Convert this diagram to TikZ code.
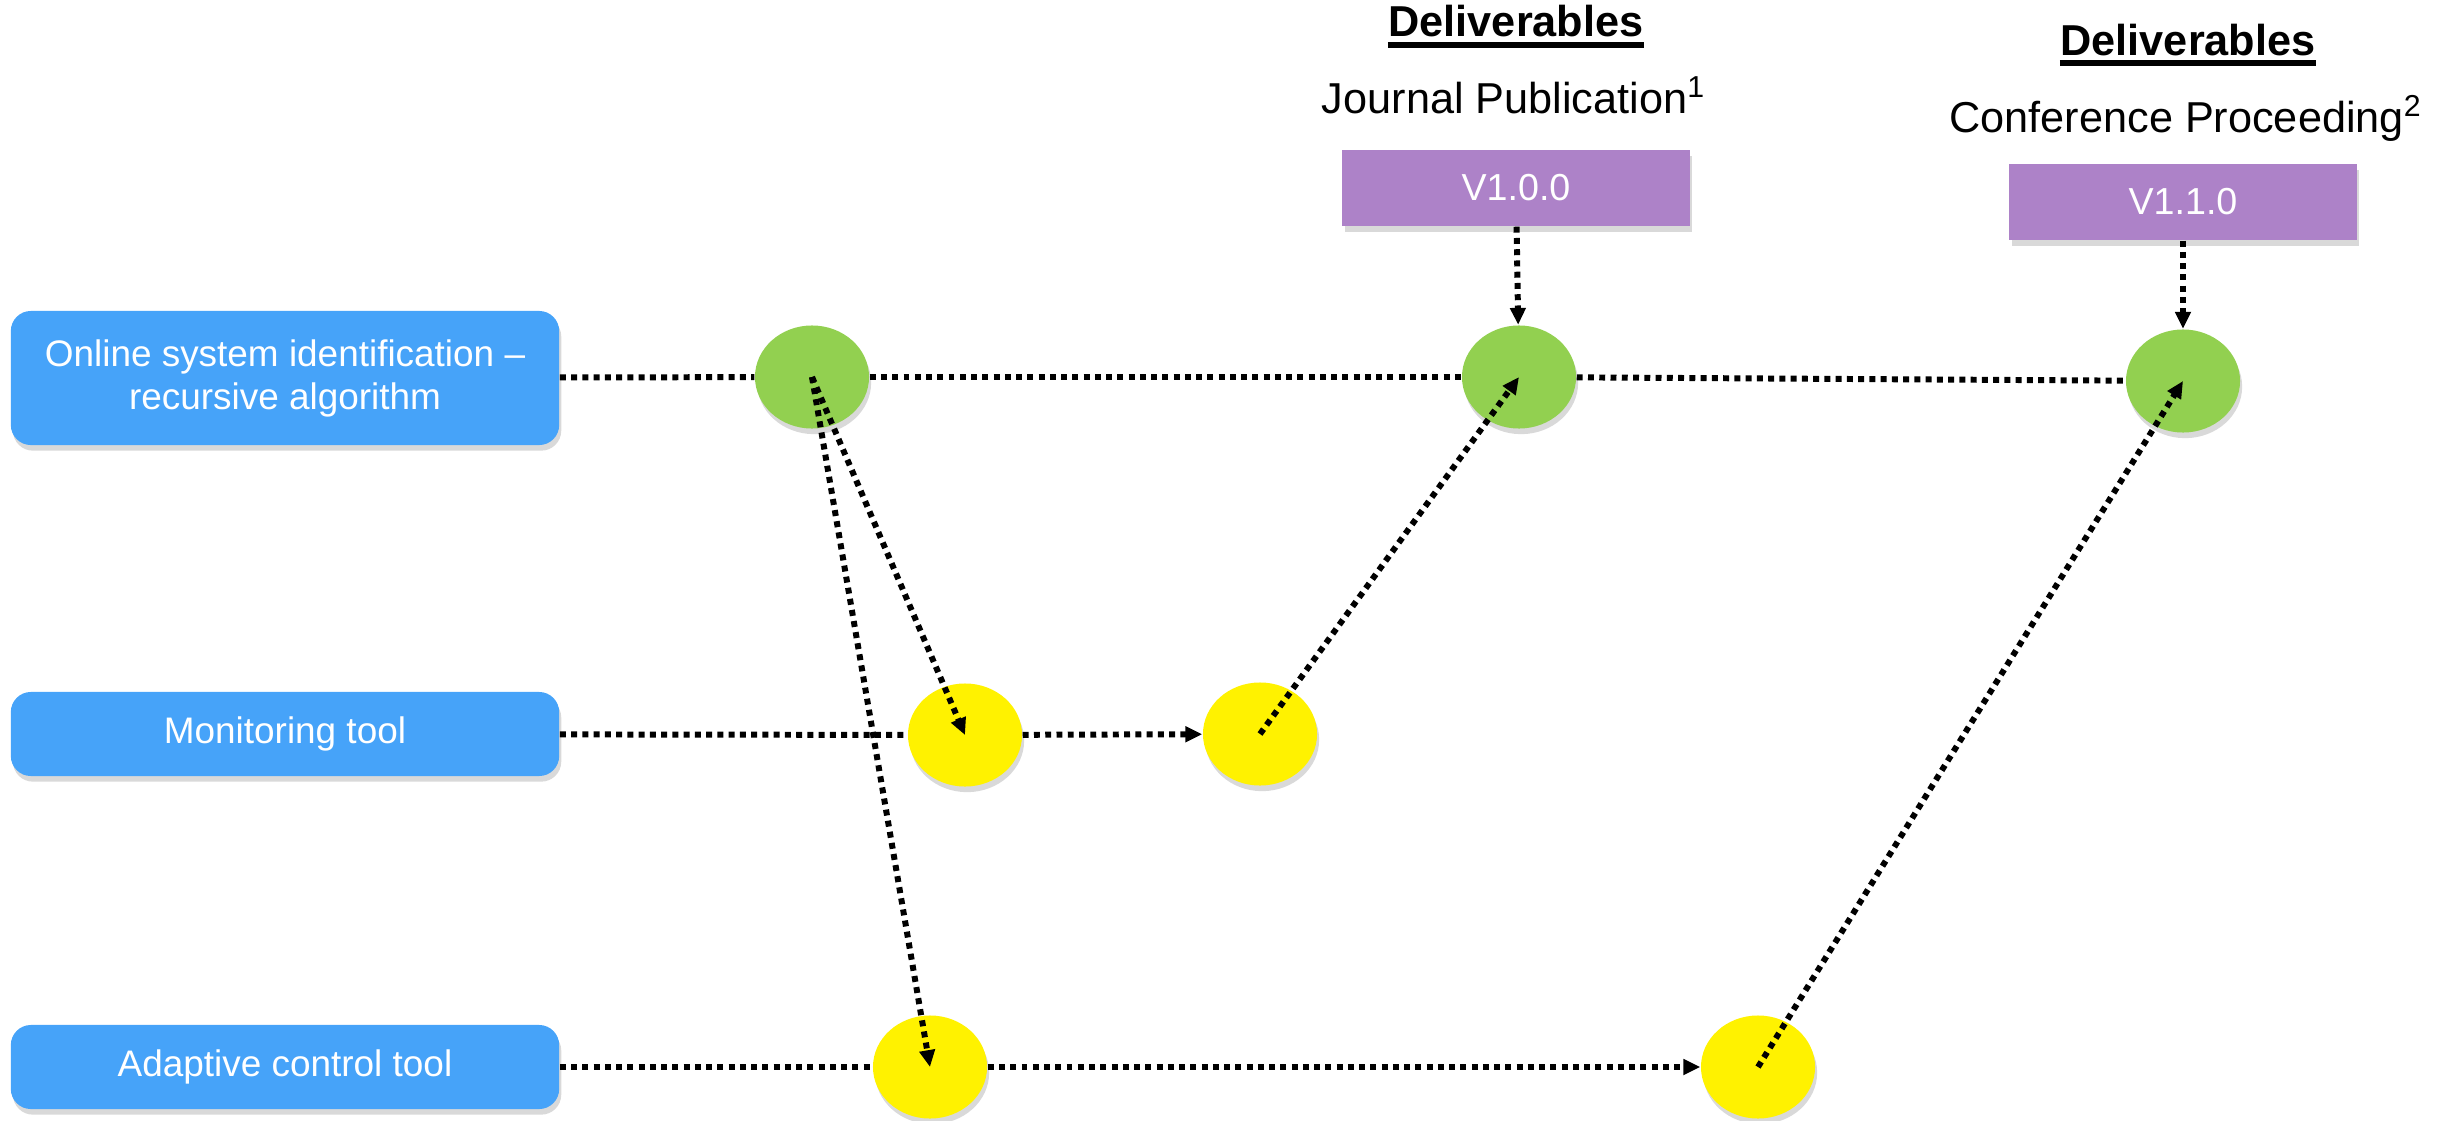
\documentclass[tikz,border=0pt]{standalone}
\usepackage{fontspec}
\setmainfont{Liberation Sans}
\usetikzlibrary{arrows.meta, shapes.geometric, shadows}

\definecolor{toolblue}{HTML}{46A3F9}
\definecolor{idgreen}{HTML}{92D050}
\definecolor{relpurple}{HTML}{AD82C8}

\begin{document}
\begin{tikzpicture}[x=0.01cm, y=-0.01cm,
		shade/.style={drop shadow={shadow xshift=0.6pt, shadow yshift=-1.6pt, opacity=0.3}},
		tool/.style={rectangle, rounded corners=0.2cm, fill=toolblue, text=white, shade,
			minimum width=5.48cm, align=center, font=\fontsize{10.5}{12.2}\selectfont},
		stage/.style={ellipse, inner sep=0pt, minimum width=1.14cm, minimum height=1.03cm, shade},
		release/.style={rectangle, fill=relpurple, text=white, shade,
			minimum width=3.47cm, minimum height=0.76cm, font=\fontsize{10.7}{12}\selectfont},
		heading/.style={inner sep=0pt, anchor=base, font=\fontsize{12.3}{14}\selectfont},
		link/.style={line width=1.7pt, dash pattern=on 1.7pt off 1.5pt},
		flow/.style={link, -{Triangle[length=4.8pt, width=4.3pt]}}]
	\useasboundingbox (0,0) rectangle (2451,1121);

	% work packages
	\node[tool, minimum height=1.34cm] (ident) at (285,378) {Online system identification \textendash\\recursive algorithm};
	\node[tool, minimum height=0.84cm] (monitor) at (285,734) {Monitoring tool};
	\node[tool, minimum height=0.84cm] (adapt) at (285,1067) {Adaptive control tool};

	% milestones
	\node[stage, fill=idgreen] (id1) at (812,377) {};
	\node[stage, fill=idgreen] (id2) at (1519,377) {};
	\node[stage, fill=idgreen] (id3) at (2183,381) {};
	\node[stage, fill=yellow] (mon1) at (965,735) {};
	\node[stage, fill=yellow] (mon2) at (1260,734) {};
	\node[stage, fill=yellow] (ctl1) at (930,1067) {};
	\node[stage, fill=yellow] (ctl2) at (1758,1067) {};

	% deliverables
	\node[release] (rel1) at (1516,188) {V1.0.0};
	\node[release] (rel2) at (2183,202) {V1.1.0};
	\node[heading, font=\fontsize{12.3}{14}\selectfont\bfseries] (del1) at (1516,37) {Deliverables};
	\node[heading] (pub1) at (1514,113) {Journal Publication\textsuperscript{1}};
	\node[heading, font=\fontsize{12.3}{14}\selectfont\bfseries] (del2) at (2188,55) {Deliverables};
	\node[heading] (pub2) at (2186,132) {Conference Proceeding\textsuperscript{2}};
	\foreach \d in {del1, del2}
		\draw[line width=1.6pt] ([yshift=-2.2pt]\d.base west) -- ([yshift=-2.2pt]\d.base east);

	% timelines
	\foreach \a/\b in {ident/id1, id1/id2, id2/id3, monitor/mon1, adapt/ctl1}
		\draw[link] (\a) -- (\b);
	\draw[flow] (mon1) -- (mon2);
	\draw[flow] (ctl1) -- (ctl2);

	% dependencies
	\draw[flow] (id1.center) -- (mon1.center);
	\draw[flow] (id1.center) -- (ctl1.center);
	\draw[flow] (mon2.center) -- (id2.center);
	\draw[flow] (ctl2.center) -- (id3.center);
	\draw[flow] (rel1) -- (id2);
	\draw[flow] (rel2) -- (id3);
\end{tikzpicture}
\end{document}
